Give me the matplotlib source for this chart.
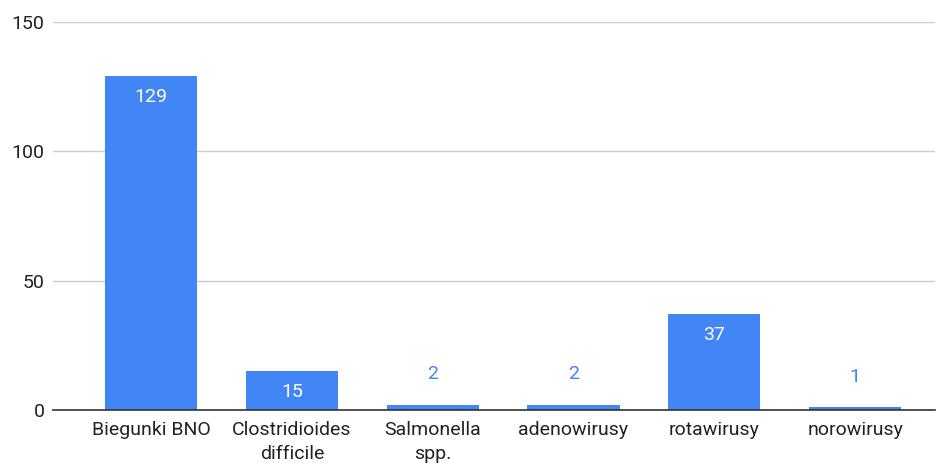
import matplotlib.pyplot as plt

plt.rcParams['font.family'] = ['Roboto', 'DejaVu Sans']

# data
categories = ["Biegunki BNO", "Clostridioides\ndifficile", "Salmonella\nspp.",
              "adenowirusy", "rotawirusy", "norowirusy"]
counts = [129, 15, 2, 2, 37, 1]
y_ticks = [0, 50, 100, 150]

bar_color = '#4285F4'

fig = plt.figure(figsize=(9.37, 4.63), dpi=100)
ax = fig.add_axes([53 / 937, 1 - 410 / 463, (935 - 53) / 937, (410 - 22) / 463])

x = list(range(len(categories)))
bars = ax.bar(x, counts, width=0.655, color=bar_color, zorder=3)

# value labels: inside the bar when it is tall enough, else above it in blue
for xi, v in zip(x, counts):
    if v >= 10:
        ax.annotate(str(v), (xi, v), xytext=(0, -15), textcoords='offset points',
                    ha='center', va='center', color='white', fontsize=14)
    else:
        ax.annotate(str(v), (xi, v), xytext=(0, 22), textcoords='offset points',
                    ha='center', va='center', color=bar_color, fontsize=14)

ax.set_xlim(-0.697, 5.567)
ax.set_ylim(0, 150)
ax.set_yticks(y_ticks)
ax.set_xticks(x)
ax.set_xticklabels(categories, fontsize=14, color='#222222', linespacing=1.4)
ax.tick_params(axis='y', length=0, pad=6, labelsize=14, labelcolor='#222222')
ax.tick_params(axis='x', length=0, pad=8)

ax.grid(axis='y', color='#cccccc', linewidth=1, zorder=0)
for s in ['top', 'right', 'left']:
    ax.spines[s].set_visible(False)
ax.spines['bottom'].set_color('#333333')
ax.spines['bottom'].set_linewidth(1.2)
ax.spines['bottom'].set_zorder(4)

fig.savefig('out.png', dpi=100)
